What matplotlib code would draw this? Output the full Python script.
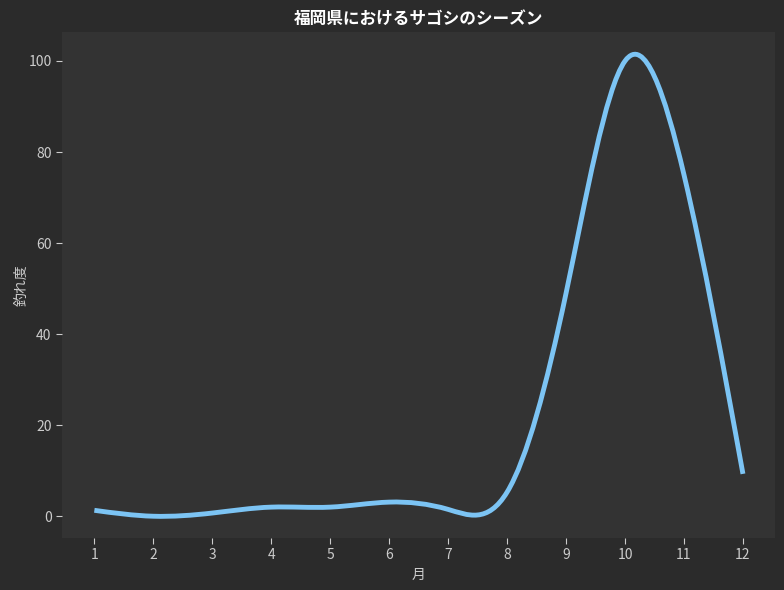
import numpy as np
import matplotlib
matplotlib.use('Agg')
import matplotlib.pyplot as plt
from matplotlib.path import Path
from matplotlib.patches import PathPatch

plt.rcParams['font.family'] = ['Noto Sans CJK JP', 'DejaVu Sans']

# monthly catch index
months = [1, 2, 3, 4, 5, 6, 7, 8, 9, 10, 11, 12]
catch = [1.3, 0.0, 0.7, 2.0, 2.0, 3.1, 1.5, 5.3, 49.0, 100.0, 75.0, 9.3]

title = '福岡県におけるサゴシのシーズン'
xlabel = '月'
ylabel = '釣れ度'


def spline_slopes(y):
    # natural cubic spline slopes, unit spacing
    n = len(y)
    d = np.diff(y)
    A = np.zeros((n, n))
    b = np.zeros(n)
    A[0, 0], A[0, 1] = 2, 1
    b[0] = 3 * d[0]
    for i in range(1, n - 1):
        A[i, i - 1], A[i, i], A[i, i + 1] = 1, 4, 1
        b[i] = 3 * (y[i + 1] - y[i - 1])
    A[-1, -2], A[-1, -1] = 1, 2
    b[-1] = 3 * d[-1]
    return np.linalg.solve(A, b)


x = np.array(months, dtype=float)
y = np.array(catch)
m = spline_slopes(y)

# each spline piece is a cubic bezier, let matplotlib draw it
verts = [(x[0], y[0])]
codes = [Path.MOVETO]
for i in range(len(x) - 1):
    verts += [(x[i] + 1 / 3, y[i] + m[i] / 3),
              (x[i + 1] - 1 / 3, y[i + 1] - m[i + 1] / 3),
              (x[i + 1], y[i + 1])]
    codes += [Path.CURVE4] * 3

fig, ax = plt.subplots(figsize=(7.84, 5.9), dpi=100)
fig.patch.set_facecolor('#2b2b2b')
ax.set_facecolor('#333333')

ax.add_patch(PathPatch(Path(verts, codes), facecolor='none', edgecolor='#7cc4f4',
                       linewidth=3.5, capstyle='butt'))
ax.set_xlim(0.45, 12.55)
ax.set_ylim(-4.8, 106.4)
ax.set_xticks(months)
ax.set_yticks([0, 20, 40, 60, 80, 100])

for s in ax.spines.values():
    s.set_visible(False)
ax.tick_params(colors='#cccccc', labelsize=10, length=4)
ax.set_title(title, color='white', fontsize=12, fontweight='bold', pad=6)
ax.set_xlabel(xlabel, color='#cccccc', fontsize=10)
ax.set_ylabel(ylabel, color='#cccccc', fontsize=10, labelpad=0)

fig.subplots_adjust(left=0.079, right=0.989, top=0.946, bottom=0.088)
fig.savefig('out.png', dpi=100, facecolor=fig.get_facecolor())
